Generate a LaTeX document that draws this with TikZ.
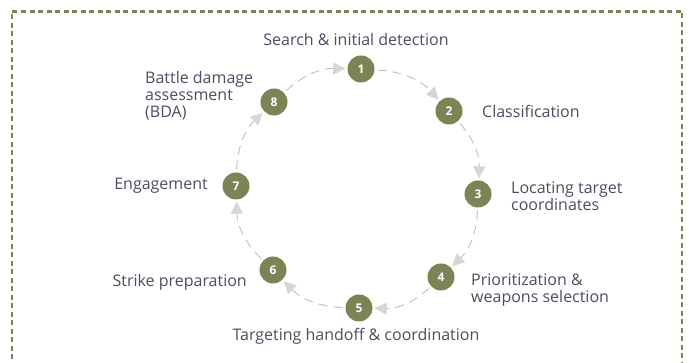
\documentclass[tikz,border=0pt]{standalone}
\usepackage{fontspec}
\setmainfont{Open Sans}
\usetikzlibrary{arrows.meta}
\definecolor{cycleolive}{HTML}{7E8356}
\definecolor{labelgray}{HTML}{4C4D61}
\definecolor{arrowgray}{HTML}{C4C4C4}
\definecolor{headgray}{HTML}{D6D6D6}

\begin{document}
\begin{tikzpicture}[x=1pt,y=1pt,
    stepdot/.style={circle,fill=cycleolive,minimum size=27pt,inner sep=0pt,
      text=white,font=\bfseries\fontsize{12}{14}\selectfont},
    steplabel/.style={text=labelgray,font=\fontsize{16}{17}\selectfont,
      align=left,inner sep=0pt},
    cyclearrow/.style={draw=arrowgray,line width=1pt,
      dash pattern=on 9pt off 6pt,
      -{Triangle[length=12pt,width=12pt,fill=headgray,color=headgray]},
      shorten <=3pt,shorten >=2pt}
  ]
  \useasboundingbox (0,0) rectangle (689,363);
  \draw[cycleolive,line width=2.5pt,dash pattern=on 5pt off 3.5pt]
    (12,-5) -- (12,351.5) -- (682,351.5) -- (682,-5);

  \node[stepdot] (s1) at (361,294) {1};
  \node[stepdot] (s2) at (449,252) {2};
  \node[stepdot] (s3) at (478,169) {3};
  \node[stepdot] (s4) at (441,86)  {4};
  \node[stepdot] (s5) at (359,55)  {5};
  \node[stepdot] (s6) at (273,93)  {6};
  \node[stepdot] (s7) at (236,177) {7};
  \node[stepdot] (s8) at (274,261) {8};

  \draw[cyclearrow] (s1) to[bend left=22] (s2);
  \draw[cyclearrow] (s2) to[bend left=22] (s3);
  \draw[cyclearrow] (s3) to[bend left=22] (s4);
  \draw[cyclearrow] (s4) to[bend left=22] (s5);
  \draw[cyclearrow] (s5) to[bend left=22] (s6);
  \draw[cyclearrow] (s6) to[bend left=22] (s7);
  \draw[cyclearrow] (s7) to[bend left=22] (s8);
  \draw[cyclearrow] (s8) to[bend left=22] (s1);

  \node[steplabel,anchor=center] (l1) at (356,323) {Search \& initial detection};
  \node[steplabel,anchor=west]   (l2) at (482,252) {Classification};
  \node[steplabel,anchor=west]   (l3) at (511,166.5) {Locating target\\coordinates};
  \node[steplabel,anchor=west]   (l4) at (471,73)  {Prioritization \&\\weapons selection};
  \node[steplabel,anchor=center] (l5) at (356,27)  {Targeting handoff \& coordination};
  \node[steplabel,anchor=east]   (l6) at (247,81)  {Strike preparation};
  \node[steplabel,anchor=east]   (l7) at (208,177) {Engagement};
  \node[steplabel,anchor=west]   (l8) at (145,267) {Battle damage\\assessment\\(BDA)};
\end{tikzpicture}
\end{document}
